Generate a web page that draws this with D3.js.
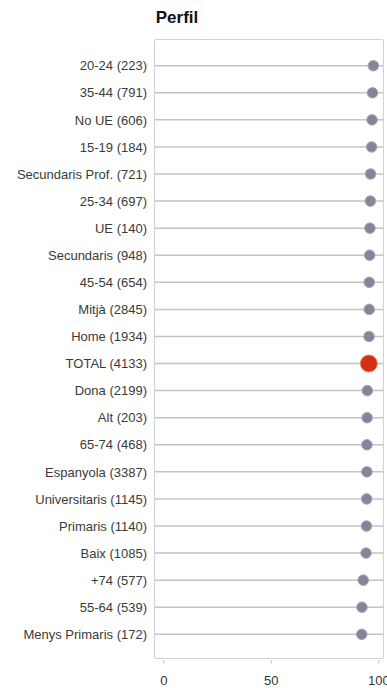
<!DOCTYPE html>
<html>
<head>
<meta charset="utf-8">
<script src="https://cdn.jsdelivr.net/npm/d3@7"></script>
<style>
  html, body { margin: 0; padding: 0; background: #fff; }
  svg { display: block; font-family: "Liberation Sans", Arial, sans-serif; }
</style>
</head>
<body>
<svg id="chart" width="387" height="688"></svg>
<script>
// Profile groups (with sample size), ordered from highest to lowest value
const categories = [
  "20-24 (223)", "35-44 (791)", "No UE (606)", "15-19 (184)",
  "Secundaris Prof. (721)", "25-34 (697)", "UE (140)", "Secundaris (948)",
  "45-54 (654)", "Mitjà (2845)", "Home (1934)", "TOTAL (4133)",
  "Dona (2199)", "Alt (203)", "65-74 (468)", "Espanyola (3387)",
  "Universitaris (1145)", "Primaris (1140)", "Baix (1085)", "+74 (577)",
  "55-64 (539)", "Menys Primaris (172)"
];
const values = [
  97.7, 97.3, 97.1, 96.9,
  96.4, 96.3, 96.1, 96.0,
  95.8, 95.8, 95.7, 95.6,
  94.9, 94.8, 94.7, 94.7,
  94.6, 94.5, 94.3, 93.0,
  92.4, 92.3
];
const xTicks = [0, 50, 100];
const totalLabel = "TOTAL (4133)";
const title = "Perfil";

const data = categories.map((c, i) => ({ cat: c, value: values[i] }));

const svg = d3.select("#chart");

// Plot frame and scales
const frame = { left: 154, right: 384, top: 39, bottom: 659 };
const x = d3.scaleLinear().domain([0, 100]).range([163.3, 378.3]);
const y = d3.scalePoint().domain(categories).range([65.7, 634.3]);

svg.append("text")
  .attr("x", 177)
  .attr("y", 23)
  .attr("text-anchor", "middle")
  .attr("font-size", 17)
  .attr("font-weight", "bold")
  .attr("fill", "#111")
  .text(title);

svg.append("rect")
  .attr("x", frame.left + 0.5)
  .attr("y", frame.top + 0.5)
  .attr("width", frame.right - frame.left - 1)
  .attr("height", frame.bottom - frame.top - 1)
  .attr("rx", 1.5)
  .attr("fill", "none")
  .attr("stroke", "#d2d2d2")
  .attr("stroke-width", 1.2);

// Row guide lines across the plot
svg.append("g")
  .selectAll("line")
  .data(data)
  .join("line")
  .attr("x1", frame.left + 1)
  .attr("x2", frame.right - 1)
  .attr("y1", d => y(d.cat))
  .attr("y2", d => y(d.cat))
  .attr("stroke", "#c4c4c4")
  .attr("stroke-width", 1.5);

// Category labels
const yAxis = d3.axisLeft(y).tickSize(0).tickPadding(0);
const yg = svg.append("g")
  .attr("transform", `translate(147,0)`)
  .call(yAxis);
yg.select(".domain").remove();
yg.selectAll("text")
  .attr("font-size", 13)
  .attr("font-family", "Liberation Sans, Arial, sans-serif")
  .attr("fill", "#3a3a3a");

// Bottom axis: short ticks under the frame, labels below
const xAxis = d3.axisBottom(x).tickValues(xTicks).tickSize(3).tickPadding(12)
  .tickFormat(d3.format("d"));
const xg = svg.append("g")
  .attr("transform", `translate(0,${frame.bottom + 1.5})`)
  .call(xAxis);
xg.select(".domain").remove();
xg.selectAll("line").attr("stroke", "#bdbdbd");
xg.selectAll("text")
  .attr("font-size", 13)
  .attr("font-family", "Liberation Sans, Arial, sans-serif")
  .attr("fill", "#333");

// Dots
svg.append("g")
  .selectAll("circle")
  .data(data)
  .join("circle")
  .attr("cx", d => x(d.value))
  .attr("cy", d => y(d.cat))
  .attr("r", d => d.cat === totalLabel ? 8.5 : 5.3)
  .attr("fill", d => d.cat === totalLabel ? "#d4300f" : "#85849a")
  .attr("stroke", d => d.cat === totalLabel ? "#e8826f" : "#a9a8b8")
  .attr("stroke-width", 1);
</script>
</body>
</html>
